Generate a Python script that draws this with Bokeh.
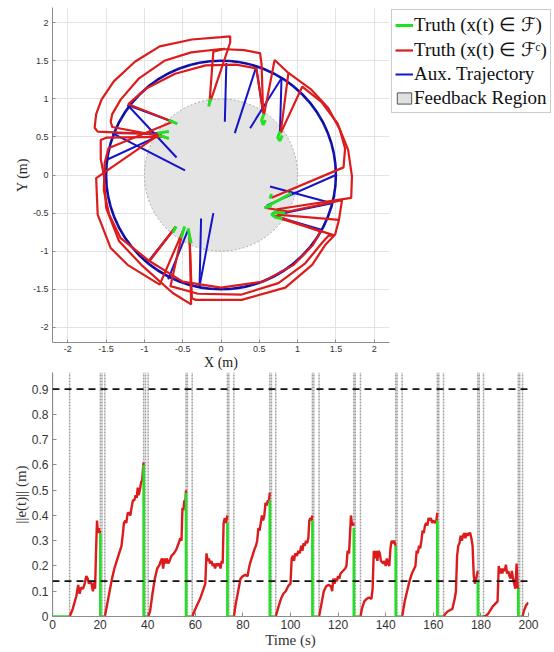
from bokeh.plotting import figure
from bokeh.models import Legend, LegendItem, Span, FixedTicker
from bokeh.layouts import column
from bokeh.embed import file_html
from bokeh.resources import INLINE

# ---------------- data: top (trajectory) ----------------
ticks_xy = [-2, -1.5, -1, -0.5, 0, 0.5, 1, 1.5, 2]
tick_xy_labels = ["-2", "-1.5", "-1", "-0.5", "0", "0.5", "1", "1.5", "2"]
feedback_radius = 1.0
aux_radius = 1.5

red_paths = [
    [(-0.77, 0.53), (-1.61, 0.57), (-1.65, 0.62), (-1.63, 0.80), (-1.56, 0.99), (-1.40, 1.23), (-1.12, 1.49),
     (-0.80, 1.69), (-0.38, 1.78), (0.00, 1.81), (0.12, 1.82), (0.12, 1.74), (-0.13, 0.99)],
    [(-0.74, 0.50), (-1.42, 0.63), (-1.44, 0.70), (-1.42, 0.80), (-1.31, 0.99), (-1.07, 1.27), (-0.74, 1.50),
     (-0.39, 1.61), (0.00, 1.655), (0.30, 1.64), (0.51, 1.60), (0.53, 1.45), (0.55, 0.81)],
    [(-0.15, 0.95), (-0.10, 1.62), (0.05, 1.66)],
    [(-0.63, 0.70), (-1.21, 0.93), (-0.97, 1.14), (-0.60, 1.33), (-0.20, 1.44), (0.20, 1.45), (0.46, 1.40), (0.55, 0.83)],
    [(0.56, 0.78), (0.70, 1.51), (0.88, 1.34), (0.78, 0.56)],
    [(0.78, 0.55), (1.06, 1.16), (1.31, 0.96), (1.52, 0.68), (1.66, 0.33), (1.71, -0.02), (1.70, -0.30), (0.73, -0.45)],
    [(0.88, 1.34), (1.18, 1.12), (1.40, 0.88), (1.55, 0.60), (1.62, 0.35), (1.60, 0.10), (0.66, -0.30)],
    [(0.57, -0.43), (0.88, -0.48), (1.58, -0.33), (1.54, -0.59), (1.49, -0.78), (1.36, -0.92), (1.19, -1.18),
     (0.84, -1.48), (0.27, -1.64), (-0.33, -1.64), (-0.38, -1.62), (-0.41, -0.80)],
    [(0.73, -0.52), (1.54, -0.59)],
    [(0.77, -0.57), (1.47, -0.79), (1.40, -0.80), (1.32, -0.89), (1.10, -1.16), (0.75, -1.42), (0.27, -1.57),
     (-0.30, -1.56), (-0.66, -1.46), (-0.50, -0.74)],
    [(0.66, -0.52), (1.30, -0.74), (1.20, -0.92), (0.95, -1.18), (0.55, -1.40), (0.00, -1.48), (-0.50, -1.40),
     (-0.935, -1.13), (-0.59, -0.68)],
    [(-0.50, -0.74), (-0.80, -1.44), (-1.22, -1.18), (-1.44, -0.96), (-1.61, -0.52), (-1.63, -0.04), (-0.78, 0.55)],
    [(-0.41, -0.80), (-0.39, -1.70), (-0.63, -1.55), (-1.04, -1.18), (-1.33, -0.87), (-1.50, -0.43), (-1.53, 0.00),
     (-1.57, 0.21), (-1.57, 0.46), (-1.50, 0.49), (-0.74, 0.50)],
    [(-0.59, -0.68), (-0.935, -1.13), (-1.31, -0.83), (-1.46, -0.52), (-1.53, -0.20), (-1.52, 0.15), (-1.47, 0.35),
     (-0.63, 0.70)],
]

green_paths = [
    [(-0.16, 0.90), (-0.15, 0.95), (-0.13, 1.00)],
    [(0.56, 0.80), (0.53, 0.72), (0.55, 0.66), (0.58, 0.72)],
    [(0.77, 0.57), (0.74, 0.49), (0.77, 0.45), (0.80, 0.52)],
    [(0.92, -0.24), (0.57, -0.43), (0.66, -0.40)],
    [(0.64, -0.31), (0.66, -0.25)],
    [(0.84, -0.50), (0.70, -0.49), (0.66, -0.52), (0.72, -0.56), (0.80, -0.57)],
    [(-0.585, -0.675), (-0.63, -0.76)],
    [(-0.475, -0.675), (-0.52, -0.83)],
    [(-0.43, -0.70), (-0.39, -0.90)],
    [(-0.68, 0.72), (-0.57, 0.67)],
    [(-0.83, 0.55), (-0.68, 0.57)],
    [(-0.81, 0.52), (-0.68, 0.48)],
]

blue_jumps = [
    [(0.07, 1.47), (0.05, 0.70)],
    [(0.46, 1.42), (0.18, 0.55)],
    [(0.46, 1.42), (0.55, 0.81)],
    [(0.79, 1.27), (0.38, 0.615)],
    [(0.79, 1.27), (0.77, 0.57)],
    [(1.50, 0.00), (0.60, -0.40)],
    [(0.64, -0.15), (1.45, -0.37)],
    [(1.45, -0.37), (0.73, -0.52)],
    [(0.71, -0.54), (1.31, -0.72)],
    [(-0.93, -1.11), (-0.59, -0.68)],
    [(-0.69, -1.37), (-0.43, -0.72)],
    [(-0.28, -1.46), (-0.26, -0.57)],
    [(-0.28, -1.46), (-0.10, -0.50)],
    [(-1.22, 0.92), (-0.63, 0.70)],
    [(-1.22, 0.92), (-0.58, 0.23)],
    [(-1.42, 0.55), (-0.47, 0.06)],
    [(-1.42, 0.55), (-0.78, 0.55)],
    [(-1.49, 0.20), (-0.78, 0.53)],
]

# ---------------- data: bottom (error norm) ----------------
time_ticks = [0, 20, 40, 60, 80, 100, 120, 140, 160, 180, 200]
err_ticks = [0, 0.1, 0.2, 0.3, 0.4, 0.5, 0.6, 0.7, 0.8, 0.9]
err_tick_labels = ["0", "0.1", "0.2", "0.3", "0.4", "0.5", "0.6", "0.7", "0.8", "0.9"]
thresholds = [0.9, 0.14]

red_t = [
    [7.2, 8.5, 10, 10.8, 11.4, 12, 12.8, 13.4, 14.2, 14.8, 15.3, 15.8, 16.4, 17, 17.5, 17.9, 18.3, 18.7, 19.1, 19.5, 19.8, 20.1],
    [22.0, 23, 24, 25, 26, 27, 28, 29, 29.6, 30, 30.6, 31, 31.6, 32.2, 32.7, 33.2, 33.8, 34.4, 34.9, 35.4, 35.8, 36.2, 36.7, 37.2, 37.7, 38.0, 38.3],
    [40.2, 41, 42, 43, 44, 45, 45.5, 46, 46.5, 47, 47.5, 48, 48.6, 49.2, 50, 51, 52, 53, 53.7, 54.2, 54.6, 55.0, 55.4, 55.8, 56.1],
    [58.7, 60, 62, 63.5, 64.2, 64.7, 65.2, 65.7, 66.2, 66.8, 67.3, 67.8, 68.3, 68.9, 69.5, 70.1, 70.6, 71.1, 71.5, 71.9, 72.4, 72.8, 73.1, 73.5],
    [76.2, 77, 78, 79, 80, 81, 82, 82.5, 83, 84, 85, 85.5, 86, 86.5, 87, 87.5, 88, 88.5, 89, 89.5, 90, 90.5, 90.9, 91.3],
    [93.8, 95, 96, 97, 98, 99, 100, 100.5, 101, 101.5, 102, 102.7, 103.3, 103.9, 104.5, 105, 105.5, 106, 106.5, 107, 107.5, 107.9, 108.4, 108.8, 109.2],
    [112.0, 113, 114, 115, 116, 117, 117.5, 118, 118.5, 119, 119.5, 120, 120.5, 121, 122, 123, 123.5, 124, 124.6, 125.4, 125.9, 126.3, 126.6],
    [129.4, 130, 131, 132, 133, 134, 134.5, 135, 135.5, 136, 136.5, 137, 137.5, 138, 139, 139.5, 140, 140.5, 141, 141.5, 142, 142.5, 143, 143.5, 144.2],
    [146.9, 148, 149, 150, 151, 152, 152.5, 153, 153.5, 154, 154.5, 155, 155.5, 156, 156.5, 157, 157.5, 158, 158.5, 159, 159.5, 160, 160.8, 161.3, 161.7],
    [164.3, 165, 166, 167, 168, 168.5, 169, 169.5, 170, 170.5, 171, 171.5, 172, 172.5, 173, 173.5, 174, 174.5, 175, 175.5, 176, 176.5, 177, 177.5, 178, 178.7],
    [181.1, 182, 183, 184, 185, 186, 187, 187.5, 188, 188.5, 189, 189.5, 190, 190.5, 191, 191.5, 192, 192.5, 193, 193.5, 194, 194.5, 195, 195.4, 195.7],
    [197.5, 198, 199, 200],
]
red_e = [
    [0, 0.03, 0.08, 0.125, 0.09, 0.115, 0.11, 0.125, 0.16, 0.15, 0.13, 0.14, 0.13, 0.10, 0.135, 0.11, 0.26, 0.38, 0.33, 0.35, 0.33, 0.34],
    [0, 0.05, 0.10, 0.15, 0.19, 0.22, 0.25, 0.28, 0.33, 0.37, 0.38, 0.37, 0.41, 0.41, 0.40, 0.43, 0.46, 0.46, 0.48, 0.47, 0.51, 0.48, 0.50, 0.53, 0.54, 0.58, 0.61],
    [0, 0.02, 0.09, 0.15, 0.19, 0.205, 0.22, 0.23, 0.19, 0.23, 0.21, 0.23, 0.21, 0.22, 0.24, 0.25, 0.265, 0.29, 0.31, 0.30, 0.43, 0.42, 0.46, 0.45, 0.50],
    [0, 0.03, 0.07, 0.11, 0.13, 0.25, 0.22, 0.23, 0.21, 0.22, 0.20, 0.21, 0.19, 0.21, 0.20, 0.21, 0.19, 0.22, 0.21, 0.37, 0.39, 0.37, 0.38, 0.40],
    [0, 0.05, 0.10, 0.15, 0.16, 0.165, 0.16, 0.19, 0.21, 0.24, 0.27, 0.28, 0.30, 0.35, 0.34, 0.37, 0.40, 0.38, 0.40, 0.45, 0.44, 0.46, 0.45, 0.49],
    [0, 0.04, 0.07, 0.09, 0.10, 0.12, 0.13, 0.23, 0.24, 0.22, 0.25, 0.24, 0.26, 0.25, 0.28, 0.26, 0.29, 0.28, 0.30, 0.29, 0.31, 0.38, 0.39, 0.38, 0.40],
    [0, 0.05, 0.10, 0.12, 0.125, 0.12, 0.10, 0.15, 0.13, 0.15, 0.14, 0.16, 0.15, 0.17, 0.18, 0.19, 0.20, 0.26, 0.25, 0.40, 0.36, 0.37, 0.36],
    [0, 0.03, 0.06, 0.07, 0.075, 0.07, 0.11, 0.26, 0.23, 0.26, 0.22, 0.26, 0.25, 0.22, 0.21, 0.22, 0.20, 0.23, 0.21, 0.20, 0.27, 0.30, 0.29, 0.30, 0.28],
    [0, 0.06, 0.10, 0.14, 0.17, 0.19, 0.20, 0.26, 0.25, 0.28, 0.27, 0.30, 0.34, 0.33, 0.36, 0.37, 0.36, 0.39, 0.38, 0.39, 0.37, 0.38, 0.37, 0.38, 0.41],
    [0, 0.01, 0.02, 0.025, 0.03, 0.05, 0.07, 0.10, 0.24, 0.28, 0.29, 0.32, 0.30, 0.32, 0.33, 0.31, 0.33, 0.32, 0.33, 0.33, 0.31, 0.28, 0.16, 0.13, 0.15, 0.18],
    [0, 0.002, 0.01, 0.025, 0.04, 0.05, 0.06, 0.20, 0.17, 0.19, 0.17, 0.19, 0.18, 0.205, 0.17, 0.18, 0.16, 0.15, 0.18, 0.15, 0.13, 0.11, 0.21, 0.12, 0.11],
    [0, 0.02, 0.045, 0.055],
]
start_green_t = [0, 7.2]
event_t = [20.1, 38.3, 56.1, 73.5, 91.3, 109.2, 126.6, 144.2, 161.7, 178.7, 195.7]
event_e = [0.33, 0.60, 0.49, 0.37, 0.46, 0.38, 0.35, 0.28, 0.38, 0.14, 0.11]
exit_t = [22.0, 40.2, 58.7, 76.2, 93.8, 112.0, 129.4, 146.9, 164.3, 181.1, 197.5]
vline_t = [0, 7.2, 20.1, 20.8, 22.0, 38.3, 39.1, 40.2, 56.1, 56.7, 58.7, 73.5, 74.1, 76.2, 91.3, 92.0, 93.8,
           109.2, 109.8, 112.0, 126.6, 127.2, 129.4, 144.2, 144.8, 146.9, 161.7, 162.3, 164.3,
           178.7, 179.3, 181.1, 195.7, 196.3, 197.5]

RED = "#dc1c1c"
GREEN = "#22e022"
BLUE = "#1414c8"
SERIF = "Liberation Serif"
SANS = "Liberation Sans"


def split(paths):
    return [[p[0] for p in path] for path in paths], [[p[1] for p in path] for path in paths]


# ---------------- top figure ----------------
p1 = figure(frame_width=337, frame_height=335, x_range=(-2.2, 2.2), y_range=(-2.2, 2.2),
            output_backend="svg", toolbar_location=None,
            min_border_left=51, min_border_right=0, min_border_top=7, min_border_bottom=20)
p1.outline_line_color = None

p1.ellipse(x=0, y=0, width=2 * feedback_radius, height=2 * feedback_radius,
           fill_color="#e4e4e4", line_color="#a8a8a8", line_dash="2 2", line_width=1)
p1.ellipse(x=0, y=0, width=2 * aux_radius, height=2 * aux_radius,
           fill_alpha=0, line_color=BLUE, line_width=2.6)
p1.ellipse(x=0, y=0, width=2 * aux_radius, height=2 * aux_radius,
           fill_alpha=0, line_color="#10106a", line_width=1.2, line_dash="6 4")

bx, by = split(blue_jumps)
r_blue = p1.multi_line(bx, by, line_color=BLUE, line_width=2)
rx, ry = split(red_paths)
r_red = p1.multi_line(rx, ry, line_color=RED, line_width=2.2)
gx, gy = split(green_paths)
r_green = p1.multi_line(gx, gy, line_color=GREEN, line_width=3)
r_region = p1.quad(left=[9], right=[9.1], bottom=[9], top=[9.1], fill_color="#e0e0e0", line_color="#555555")

p1.xaxis.ticker = FixedTicker(ticks=ticks_xy)
p1.yaxis.ticker = FixedTicker(ticks=ticks_xy)
p1.xaxis.major_label_overrides = {float(v): s for v, s in zip(ticks_xy, tick_xy_labels)}
p1.yaxis.major_label_overrides = {float(v): s for v, s in zip(ticks_xy, tick_xy_labels)}
for ax in (p1.xaxis[0], p1.yaxis[0]):
    ax.minor_tick_line_color = None
    ax.major_tick_in = 3
    ax.major_tick_out = 0
    ax.axis_line_color = "#8c8c8c"
    ax.major_tick_line_color = "#8c8c8c"
    ax.major_label_text_font = SANS
    ax.major_label_text_font_size = "9px"
    ax.major_label_text_color = "#333333"
    ax.axis_label_text_font = SERIF
    ax.axis_label_text_font_style = "normal"
    ax.axis_label_text_font_size = "14px"
    ax.axis_label_text_color = "#222222"
    ax.axis_label_standoff = 0
p1.xaxis.major_label_standoff = 3
p1.yaxis.major_label_standoff = 4
p1.xaxis.axis_label = "X (m)"
p1.yaxis.axis_label = "Y (m)"
p1.grid.grid_line_color = "#e3e3e3"
p1.grid.grid_line_width = 1
p1.xgrid.ticker = FixedTicker(ticks=ticks_xy)
p1.ygrid.ticker = FixedTicker(ticks=ticks_xy)

legend = Legend(items=[
    LegendItem(label="Truth (x(t) \u2208 \u2131)", renderers=[r_green]),
    LegendItem(label="Truth (x(t) \u2208 \u2131\u1d9c)", renderers=[r_red]),
    LegendItem(label="Aux. Trajectory", renderers=[r_blue]),
    LegendItem(label="Feedback Region", renderers=[r_region]),
], location="top_left")
legend.label_text_font = SERIF
legend.label_text_font_size = "19px"
legend.label_text_color = "#111111"
legend.label_height = 19
legend.glyph_height = 14
legend.glyph_width = 18
legend.label_standoff = 1
legend.spacing = 2
legend.padding = 3
legend.margin = 2
legend.border_line_color = "#9a9a9a"
legend.border_line_width = 1
legend.background_fill_color = "white"
p1.add_layout(legend, "right")

# ---------------- bottom figure ----------------
p2 = figure(frame_width=476, frame_height=244, x_range=(0, 200), y_range=(0, 0.966),
            output_backend="svg", toolbar_location=None,
            min_border_left=52, min_border_right=20, min_border_top=0, min_border_bottom=20)
p2.outline_line_color = None
p2.grid.grid_line_color = None

p2.segment(x0=vline_t, y0=[0] * len(vline_t), x1=vline_t, y1=[0.966] * len(vline_t),
           line_color="#a0a0a0", line_width=1.5, line_dash="2 1")
for th in thresholds:
    p2.add_layout(Span(location=th, dimension="width", line_color="#111111",
                       line_width=1.6, line_dash="7 5"))

p2.multi_line(red_t, red_e, line_color=RED, line_width=2.4)
green_xs = [start_green_t] + [[t, t, x] for t, x in zip(event_t, exit_t)]
green_ys = [[0, 0]] + [[e, 0, 0] for e in event_e]
p2.multi_line(green_xs, green_ys, line_color=GREEN, line_width=2.6)

p2.xaxis.ticker = FixedTicker(ticks=time_ticks)
p2.yaxis.ticker = FixedTicker(ticks=err_ticks)
p2.yaxis.major_label_overrides = {float(v): s for v, s in zip(err_ticks, err_tick_labels)}
for ax in (p2.xaxis[0], p2.yaxis[0]):
    ax.minor_tick_line_color = None
    ax.major_tick_in = 4
    ax.major_tick_out = 0
    ax.axis_line_color = "#8c8c8c"
    ax.major_tick_line_color = "#8c8c8c"
    ax.major_label_text_font = SANS
    ax.major_label_text_font_size = "12px"
    ax.major_label_text_color = "#333333"
    ax.axis_label_text_font = SERIF
    ax.axis_label_text_font_style = "normal"
    ax.axis_label_text_font_size = "15px"
    ax.axis_label_text_color = "#333333"
    ax.axis_label_standoff = 0
p2.xaxis.major_label_standoff = 3
p2.yaxis.major_label_standoff = 4
p2.xaxis.axis_label = "Time (s)"
p2.yaxis.axis_label = "||e(t)|| (m)"

layout = column(p1, p2)
html = file_html(layout, INLINE)
open("out.html", "w").write(html)
